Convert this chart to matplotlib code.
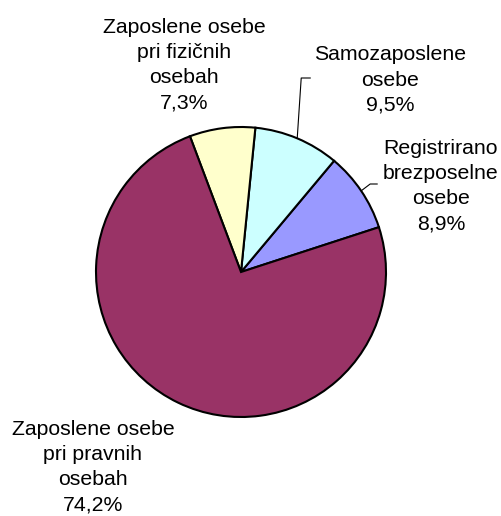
import numpy as np
import matplotlib
matplotlib.use('Agg')
import matplotlib.pyplot as plt

plt.rcParams['font.family'] = ['Liberation Sans', 'DejaVu Sans']

# Data (counterclockwise from the start angle)
labels = ['Registrirano\nbrezposelne\nosebe',
          'Samozaposlene\nosebe',
          'Zaposlene osebe\npri fizičnih\nosebah',
          'Zaposlene osebe\npri pravnih\nosebah']
values = [8.9, 9.5, 7.3, 74.2]
colors = ['#9999FF', '#CCFFFF', '#FFFFCC', '#993366']

W, H = 501, 516
fig = plt.figure(figsize=(W / 100, H / 100), dpi=100)
ax = fig.add_axes([0, 0, 1, 1])
ax.set_xlim(0, W)
ax.set_ylim(0, H)
ax.set_aspect('equal')
ax.axis('off')

cx, cy, r = 241, H - 272, 145
start = 18
wedges, _ = ax.pie(values, colors=colors, startangle=start, counterclock=True,
                   center=(cx, cy), radius=r,
                   wedgeprops=dict(edgecolor='black', linewidth=1.5))
ax.set_xlim(0, W)
ax.set_ylim(0, H)

# label positions (pixel coords, y from top)
label_pos = [(441, 186), (390, 80), (184, 65), (93, 467)]

for lab, v, (lx, ly) in zip(labels, values, label_pos):
    txt = lab + '\n' + ('%.1f%%' % v).replace('.', ',')
    ax.text(lx, H - ly, txt, ha='center', va='center', fontsize=15.3,
            linespacing=1.42)

# leader lines from wedge edges
def edge_point(i):
    w = wedges[i]
    mid = np.deg2rad((w.theta1 + w.theta2) / 2)
    return cx + r * np.cos(mid), cy + r * np.sin(mid)

ex, ey = edge_point(0)
ax.plot([ex, ex + 9, ex + 16], [ey, H - 184, H - 184], color='black', lw=0.8)

ex, ey = edge_point(1)
ax.plot([ex, ex + 4, ex + 13], [ey, H - 78, H - 78], color='black', lw=0.8)

fig.savefig('out.png', dpi=100)
